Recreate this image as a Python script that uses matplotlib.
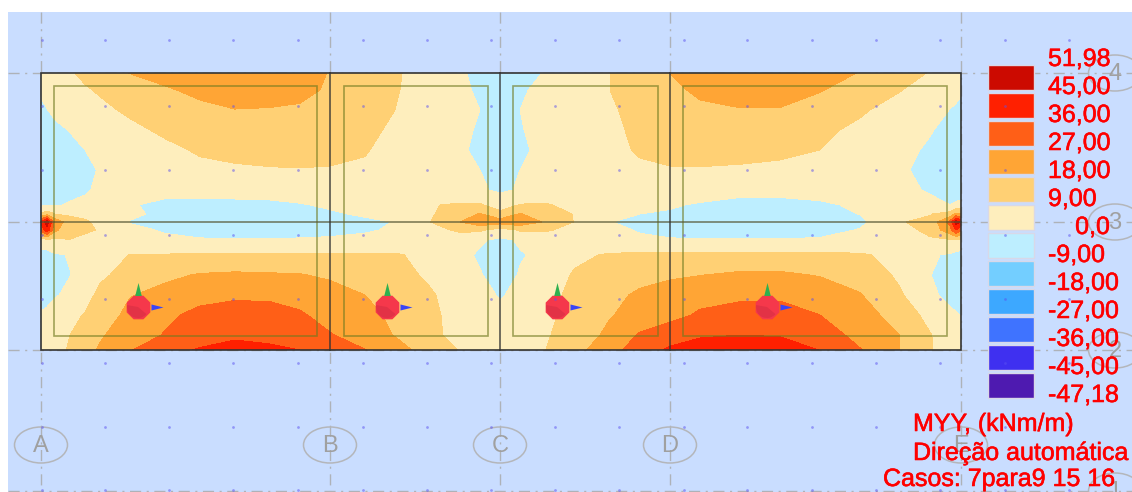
"""MYY slab moment contour plot, redrawn from a structural analysis screenshot."""

import matplotlib.patheffects as pe
import matplotlib.pyplot as plt
import numpy as np
from matplotlib.patches import Ellipse, Rectangle, Wedge

plt.rcParams["font.family"] = ["Liberation Sans", "DejaVu Sans"]

# plate coordinates of the sampled moment field
field_x = [41, 47, 55, 70, 85, 100, 130, 165, 200, 235, 270, 300, 330, 365, 400, 430, 460, 480,
           500, 520, 545, 575, 610, 640, 670, 700, 740, 780, 820, 860, 900, 930, 950, 956, 961]
field_y = [73, 90, 110, 130, 150, 170, 190, 205, 214, 222, 230, 240, 255, 275, 295, 315, 335, 350]

# MYY values (kNm/m), one row per field_y
myy = [
    [2, 3.3, 5, 8, 11, 14, 18.2, 21, 24, 26, 25, 22, 17.5, 13, 9.3, 5, 1, -2, -3, -2, 0.3, 5, 9, 14, 18, 22, 25, 26, 23, 17.5, 12.5, 8.5, 5, 4, 3],
    [1, 2, 3, 5.5, 8, 10, 13, 17, 20, 22, 21.5, 20, 17, 13, 9, 5, 2, -1.5, -3, -1, 2, 5.5, 9, 12, 15.5, 20, 22, 21.5, 18.5, 14, 9.3, 5.5, 3, 2, 1],
    [-1.5, -0.2, 1.5, 3.5, 5.5, 7, 10.5, 13.5, 16, 17.8, 17.5, 17, 15.5, 12, 8.5, 5, 2, 0, -3, 0, 2, 5, 8, 11.5, 13.5, 16, 17.5, 17.5, 14.5, 10, 6, 3, -0.2, -1, -2],
    [-4, -3, -1.5, 0.3, 2, 3.5, 7, 10.5, 12.5, 14, 14.5, 14.5, 13.5, 11, 7, 4, 1.5, -0.8, -3, -0.3, 1.5, 4, 7.5, 10.5, 12, 13.5, 14, 12.5, 10.5, 7.5, 3.5, 0.5, -2, -3, -4],
    [-6, -5, -4, -2, 0, 1.5, 4, 7, 10, 11, 11.5, 11.5, 11, 9.5, 6, 3.5, 1, -1.5, -3, -1, 1.5, 3.5, 6.5, 10, 11, 11.5, 11, 10.5, 9, 5.5, 2, -1, -3.5, -4.2, -5],
    [-7, -6, -5, -3, -1, 0.3, 2.5, 5, 7, 8, 8.5, 8.7, 8.5, 8, 5, 3, 1, 0, -2, 0, 1.5, 3, 5, 7.5, 8.5, 8.5, 8.2, 7.5, 6.5, 4, 1, -2, -4, -4.5, -5],
    [-4, -3.5, -3, -1.5, -0.5, 0.8, 1.5, 2, 2.5, 3, 3, 3.5, 3.5, 3.5, 3, 3, 2, 0.8, -1, 0.5, 2, 2.5, 3, 3.5, 3, 2.5, 2, 2, 2.5, 2.5, 1.5, -0.6, -2.5, -3.2, -4],
    [-1.5, -1, -0.5, 0.5, 1, 1, 0.5, -1.5, -2, -2, -1.5, -0.5, 1, 2.5, 4, 8.5, 10, 10, 4, 9.5, 10, 6, 3, 1.5, 0.5, -0.5, -2, -2, -1, 1, 2, 1.5, 0, 1, 2],
    [10, 14, 9, 7.5, 7, 5, 2, -2.5, -3.5, -4, -3.5, -2.5, -1, 1, 4, 8, 14, 18.5, 12, 18.5, 13.5, 8.5, 2, 0, -0.5, -2.5, -3.5, -3.5, -2.5, 0.2, 6, 8.5, 12, 20, 18],
    [38, 50, 24, 13, 10, 7, -0.5, -4, -5, -5.5, -5, -4.5, -3, -1.5, 0.5, 8.8, 18, 24, 22, 24, 17, 8.5, 0.2, -2, -4, -4.5, -5.5, -5.5, -4.5, -2, 8.5, 11, 30, 50, 42],
    [30, 42, 20, 11, 10.2, 8.5, 2, -0.8, -3, -4, -4, -3, -2, -0.7, 1, 5, 11, 10.5, 5, 10, 10.5, 5, 1.5, -0.5, -2.5, -3.5, -4, -4, -3, 0.5, 6, 11, 24, 36, 28],
    [5, 6, 7.5, 8.8, 7, 5, 2.5, 1.5, 0.8, 0.5, 0.5, 0.8, 1, 1.5, 2, 2.5, 3, 1, -1.5, 0.8, 2.5, 2, 1.5, 1, 0.7, 0.5, 0.5, 0.5, 1, 2, 5, 8, 8, 8, 7],
    [-2.5, -3, -1, 0.5, 2.5, 5, 9.2, 9.5, 9.8, 10, 10, 10, 10, 10, 9.5, 6, 2, -1, -4, -0.5, 1.5, 7, 10, 10.5, 10.5, 11, 11, 11, 10.5, 10, 6.5, 1, -1, -2.5, -3],
    [-5, -5, -3.5, -0.2, 3.5, 7.5, 12, 16, 18.7, 19.5, 19, 18.5, 16.5, 13.5, 11.5, 7.5, 3, 0.5, -3, 0.5, 4, 10, 12.5, 15, 16.5, 17.8, 19.5, 19.5, 17.5, 14.5, 7.5, 0.2, -3, -3.5, -4],
    [-4, -3, -0.8, 2, 6, 11, 17.5, 21, 24.5, 25.5, 25.5, 24, 22, 18, 14.5, 10, 5, 2, -0.5, 1.5, 5, 12, 15.5, 19.5, 22.5, 24.5, 25.5, 25.5, 23.5, 18.5, 10, 1.5, -2, -2.5, -3],
    [1, 2, 4, 7, 9.5, 13, 20.5, 25.5, 29, 31, 30, 28, 24, 20, 16, 11, 5.5, 3, 1.5, 3, 6.5, 12.5, 17.5, 21, 24.5, 28, 30, 30.5, 27, 21.5, 14.5, 6, 1.5, 0.5, -0.2],
    [4, 5, 6.5, 9, 13, 17, 22.5, 27.5, 31, 34, 33, 31, 27.5, 23.5, 16.5, 10.5, 7, 5, 5, 5.5, 8, 13, 20, 28, 31.5, 35, 36, 35.5, 32, 24, 18, 9.5, 4, 3, 2],
    [3, 4, 6, 10, 15, 19, 26.5, 32.5, 37, 40, 38, 36, 31, 27.2, 20.5, 14, 8.5, 6, 6, 6.5, 8.8, 15, 24, 31, 37.5, 40, 42, 40, 35.8, 27.5, 18, 9.5, 6, 5, 4],
]

# contour bands, lowest first
band_levels = [-47.18, -45, -36, -27, -18, -9, 0, 9, 18, 27, 36, 45, 51.98]
band_colors = ["#4e1ab0", "#3f30f0", "#3f73ff", "#3da8ff", "#73ceff", "#bdeeff",
               "#feeebd", "#ffd074", "#ffa535", "#ff5f17", "#ff2000", "#cc0a00"]
legend_labels = ["51,98", "45,00", "36,00", "27,00", "18,00", "9,00", "0,0", "-9,00",
                 "-18,00", "-27,00", "-36,00", "-45,00", "-47,18"]

# model geometry
axis_x = [41, 330, 500, 670, 961]
axis_names_x = ["A", "B", "C", "D", "E"]
axis_y = [73, 222, 350, 491]
axis_names_y = ["4", "3", "2", "1"]
slab_x = [(54, 317), (344, 488), (513, 658), (683, 947)]
slab_top, slab_bottom = 86, 336
support_x = [138, 387, 557, 767]
support_y = 307
dot_x = [41.7, 105, 169, 233, 297.7, 362.7, 426.7, 491, 555, 619, 684, 747, 812, 876, 940, 1005, 1069]
dot_y = [40, 106, 170, 235, 299, 363, 427, 490]

note_lines = ["MYY, (kNm/m)", "Direção automática", "Casos: 7para9 15 16"]

up_arrow = [(-0.5, -1), (0.5, -1), (0, 1)]
right_arrow = [(-1, -0.5), (-1, 0.5), (1, 0)]
red_text = dict(color="#ff0000", fontsize=18, va="center", zorder=7,
                path_effects=[pe.withStroke(linewidth=0.4, foreground="#ff0000")])

fig = plt.figure(figsize=(11.32, 4.92), dpi=100, facecolor="white")
ax = fig.add_axes([0, 0, 1, 1])
ax.set_xlim(0, 1132)
ax.set_ylim(492, 0)
ax.axis("off")

ax.add_patch(Rectangle((8, 12), 1124, 480, facecolor="#c9ddff", edgecolor="none", zorder=0))

# grid lines and axis bubbles
grid_style = dict(color="#aeb2b8", lw=1.0, dashes=(8, 4, 1.5, 4), zorder=1)
for x in axis_x:
    ax.plot([x, x], [12, 491], **grid_style)
for y in axis_y:
    ax.plot([8, 1132], [y, y], **grid_style)
for x, name in zip(axis_x, axis_names_x):
    ax.add_patch(Ellipse((x, 445), 53, 36, facecolor="none", edgecolor="#b4b6ba", lw=1.1, zorder=1))
    ax.text(x, 446, name, color="#a0a0a0", fontsize=17, ha="center", va="center", zorder=1)
for y, name in zip(axis_y, axis_names_y):
    ax.add_patch(Ellipse((1115, y), 53, 36, facecolor="none", edgecolor="#b4b6ba", lw=1.1, zorder=1))
    ax.text(1115, y + 1, name, color="#a0a0a0", fontsize=17, ha="center", va="center", zorder=1)

# moment field
ax.contourf(field_x, field_y, np.array(myy), levels=band_levels, colors=band_colors, zorder=2)

# slab outlines, beams and plate border
for left, right in slab_x:
    ax.add_patch(Rectangle((left, slab_top), right - left, slab_bottom - slab_top,
                           facecolor="none", edgecolor="#6f7a20", alpha=0.65, lw=1.2, zorder=3))
ax.plot([41, 961], [222, 222], color="#555533", alpha=0.75, lw=1.2, zorder=3)
for x in axis_x[1:-1]:
    ax.plot([x, x], [73, 350], color="#333333", alpha=0.7, lw=1.4, zorder=3)
ax.add_patch(Rectangle((41, 73), 920, 277, facecolor="none", edgecolor="#333333", lw=1.2, zorder=4))

# supports with their local axes
for x in support_x:
    ax.scatter([x], [support_y], s=340, marker="8", color="#f5384b", linewidths=0, zorder=5)
    ax.add_patch(Wedge((x, support_y), 11, 40, 190, facecolor="#e23246", edgecolor="none", zorder=5))
    ax.scatter([x], [289], s=88, marker=up_arrow, color="#2fb04f", linewidths=0, zorder=5)
    ax.scatter([x + 19], [support_y], s=75, marker=right_arrow, color="#3a45f5", linewidths=0, zorder=5)

# legend swatches and labels
for i, color in enumerate(band_colors[::-1]):
    ax.add_patch(Rectangle((988, 64.5 + 28 * i), 46, 25, facecolor=color, edgecolor="#d8d8e8",
                           lw=1, zorder=5))
for i, label in enumerate(legend_labels):
    x = 1110 if label == "0,0" else 1048
    ax.text(x, 59 + 28 * i, label, ha="right" if label == "0,0" else "left", **red_text)

# mesh dots, faint over everything
dots_x, dots_y = np.meshgrid(dot_x, dot_y)
ax.scatter(dots_x.ravel(), dots_y.ravel(), s=4, color="#5a50f0", alpha=0.5, linewidths=0, zorder=6)

for text, x, y in zip(note_lines, [913, 913, 883], [424, 453, 479]):
    ax.text(x, y, text, ha="left", **red_text)

fig.savefig("out.png", dpi=100, facecolor="white")
plt.close(fig)
